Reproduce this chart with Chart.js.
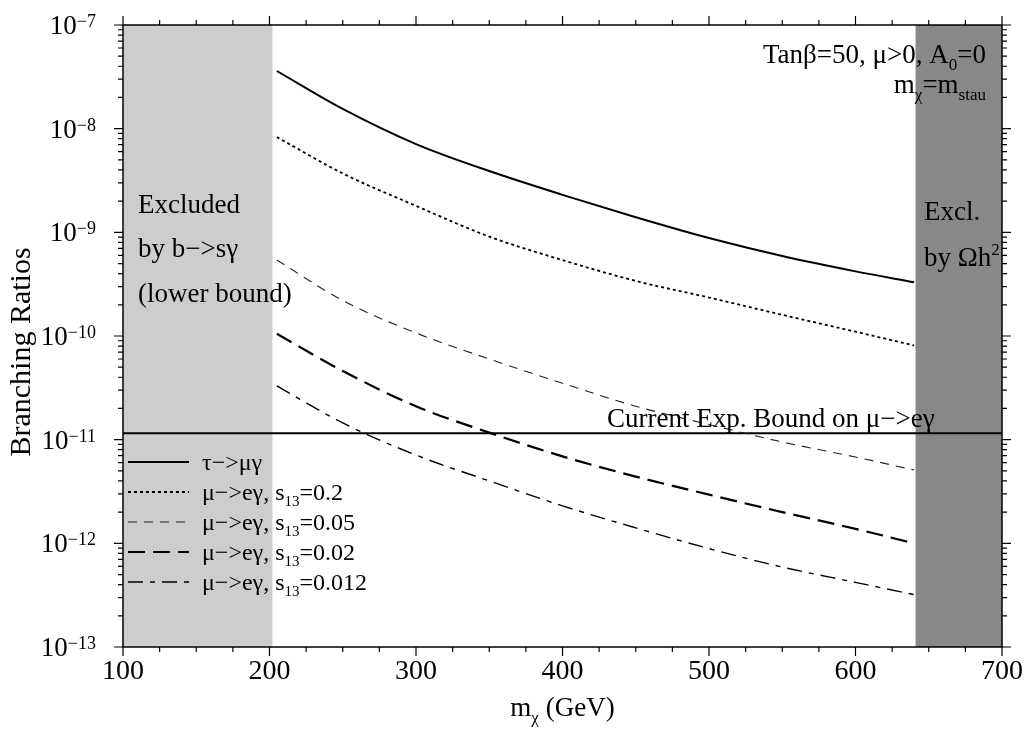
<!DOCTYPE html>
<html><head><meta charset="utf-8">
<script src="https://cdn.jsdelivr.net/npm/chart.js@4.4.0/dist/chart.umd.min.js"></script>
<style>html,body{margin:0;padding:0;background:#fff;}#wrap{width:1027px;height:732px;position:relative;}</style>
</head><body><div id="wrap"><canvas id="c" width="1027" height="732"></canvas></div>
<script>
// ---- data ----
const mass = [205, 250, 300, 350, 400, 450, 500, 550, 600, 640];
const brTauMuGamma = [3.6e-8, 1.55e-8, 7.1e-9, 3.9e-9, 2.3e-9, 1.4e-9, 8.8e-10, 5.9e-10, 4.2e-10, 3.3e-10];
const brMuEs0200 = [8.3e-9, 3.7e-9, 1.8e-9, 9.1e-10, 5.4e-10, 3.4e-10, 2.35e-10, 1.6e-10, 1.1e-10, 8.1e-11];
const brMuEs0050 = [5.4e-10, 2.2e-10, 1.07e-10, 6.0e-11, 3.5e-11, 2.1e-11, 1.4e-11, 9.5e-12, 6.8e-12, 5.1e-12];
const brMuEs0020 = [1.05e-10, 4.6e-11, 2.1e-11, 1.17e-11, 6.9e-12, 4.4e-12, 2.95e-12, 2.0e-12, 1.38e-12, 1.0e-12];
const brMuEs0012 = [3.3e-11, 1.45e-11, 7.1e-12, 4.0e-12, 2.3e-12, 1.41e-12, 8.9e-13, 5.9e-13, 4.2e-13, 3.2e-13];
const seriesLabels = ['τ−>μγ', 'μ−>eγ, s_{13}=0.2', 'μ−>eγ, s_{13}=0.05', 'μ−>eγ, s_{13}=0.02', 'μ−>eγ, s_{13}=0.012'];
const expBoundValue = 1.15e-11;
const expBoundMass = [100, 700];
const bsgExcluded = [100, 202];
const omegaExcluded = [641, 700];
const xRange = [100, 700];
const yRange = [1e-13, 1e-7];
const xTicks = [100, 200, 300, 400, 500, 600, 700];
const xMinorStep = 25;
const yTickExponents = [-13, -12, -11, -10, -9, -8, -7];

const FONT = '"Liberation Serif", "DejaVu Serif", serif';

function pts(ys) { return mass.map((m, i) => ({x: m, y: ys[i]})); }

function richSegments(str) {
  const parts = str.split(/(_\{[^}]*\}|\^\{[^}]*\})/).filter(s => s.length);
  return parts.map(p => {
    if (p.startsWith('_{')) return {t: p.slice(2, -1), k: 'sub'};
    if (p.startsWith('^{')) return {t: p.slice(2, -1), k: 'sup'};
    return {t: p, k: 'n'};
  });
}
function drawRich(ctx, str, x, y, size, align) {
  const segs = richSegments(str);
  const small = Math.round(size * 0.62);
  let total = 0;
  segs.forEach(s => {
    ctx.font = (s.k === 'n' ? size : small) + 'px ' + FONT;
    s.w = ctx.measureText(s.t).width;
    total += s.w;
  });
  let cx = align === 'right' ? x - total : (align === 'center' ? x - total / 2 : x);
  ctx.textAlign = 'left';
  ctx.textBaseline = 'alphabetic';
  segs.forEach(s => {
    ctx.font = (s.k === 'n' ? size : small) + 'px ' + FONT;
    let dy = 0;
    if (s.k === 'sub') dy = size * 0.26;
    if (s.k === 'sup') dy = -size * 0.42;
    ctx.fillText(s.t, cx, y + dy);
    cx += s.w;
  });
  return total;
}

const regionsPlugin = {
  id: 'regions',
  beforeDatasetsDraw(chart) {
    const {ctx, chartArea: a, scales: {x}} = chart;
    ctx.save();
    ctx.fillStyle = '#cdcdcd';
    let x0 = x.getPixelForValue(bsgExcluded[0]), x1 = x.getPixelForValue(bsgExcluded[1]);
    ctx.fillRect(x0, a.top, x1 - x0, a.bottom - a.top);
    ctx.fillStyle = '#888888';
    x0 = x.getPixelForValue(omegaExcluded[0]); x1 = x.getPixelForValue(omegaExcluded[1]);
    ctx.fillRect(x0, a.top, x1 - x0, a.bottom - a.top);
    ctx.restore();
  }
};

const framePlugin = {
  id: 'frame',
  afterDraw(chart) {
    const {ctx, chartArea: a, scales: {x, y}} = chart;
    ctx.save();
    ctx.strokeStyle = '#000';
    ctx.fillStyle = '#000';
    ctx.lineWidth = 1.5;
    ctx.strokeRect(a.left, a.top, a.right - a.left, a.bottom - a.top);
    ctx.lineWidth = 1.2;
    ctx.beginPath();
    for (let v = xRange[0]; v <= xRange[1] + 0.001; v += xMinorStep) {
      const px = x.getPixelForValue(v);
      const major = xTicks.includes(v);
      const L = major ? 9 : 5;
      ctx.moveTo(px, a.bottom); ctx.lineTo(px, a.bottom + L);
      ctx.moveTo(px, a.top); ctx.lineTo(px, a.top - L);
    }
    for (let i = 0; i < yTickExponents.length; i++) {
      const e = yTickExponents[i];
      for (let m = 1; m <= 9; m++) {
        if (i === yTickExponents.length - 1 && m > 1) break;
        const v = m * Math.pow(10, e);
        const py = y.getPixelForValue(v);
        const L = m === 1 ? 9 : 5;
        ctx.moveTo(a.left, py); ctx.lineTo(a.left - L, py);
        ctx.moveTo(a.right, py); ctx.lineTo(a.right + L, py);
      }
    }
    ctx.stroke();

    // x tick labels
    ctx.font = '28px ' + FONT;
    ctx.textAlign = 'center';
    ctx.textBaseline = 'alphabetic';
    xTicks.forEach(v => ctx.fillText(String(v), x.getPixelForValue(v), a.bottom + 32));
    // y tick labels 10^e
    yTickExponents.forEach(e => {
      const py = y.getPixelForValue(Math.pow(10, e));
      ctx.font = '27px ' + FONT;
      const w10 = ctx.measureText('10').width;
      ctx.font = '18px ' + FONT;
      const es = '−' + String(-e);
      const we = ctx.measureText(es).width;
      const right = 96;
      ctx.textAlign = 'left';
      ctx.font = '27px ' + FONT;
      ctx.fillText('10', right - we - w10, py + 9);
      ctx.font = '18px ' + FONT;
      ctx.fillText(es, right - we, py + 2);
    });
    // axis titles
    drawRich(ctx, 'm_{χ} (GeV)', (a.left + a.right) / 2, 716, 27, 'center');
    ctx.save();
    ctx.translate(30, 352);
    ctx.rotate(-Math.PI / 2);
    drawRich(ctx, 'Branching Ratios', 0, 0, 30, 'center');
    ctx.restore();

    // annotations
    drawRich(ctx, 'Excluded', 138, 213, 27, 'left');
    drawRich(ctx, 'by b−>sγ', 138, 257, 27, 'left');
    drawRich(ctx, '(lower bound)', 138, 302, 27, 'left');
    drawRich(ctx, 'Excl.', 924, 220, 27, 'left');
    drawRich(ctx, 'by Ωh^{2}', 924, 266, 27, 'left');
    drawRich(ctx, 'Tanβ=50, μ>0, A_{0}=0', 986, 63, 27, 'right');
    drawRich(ctx, 'm_{χ}=m_{stau}', 986, 93, 27, 'right');
    drawRich(ctx, 'Current Exp. Bound on μ−>eγ', 607, 427, 27, 'left');

    // legend
    const legY = [462, 492, 522, 552, 582];
    chart.data.datasets.slice(0, 5).forEach((ds, i) => {
      ctx.save();
      ctx.strokeStyle = ds.borderColor;
      ctx.lineWidth = ds.borderWidth;
      ctx.setLineDash(ds.borderDash || []);
      ctx.beginPath();
      ctx.moveTo(128, legY[i]); ctx.lineTo(189, legY[i]);
      ctx.stroke();
      ctx.restore();
      ctx.fillStyle = '#000';
      drawRich(ctx, ds.label, 202, legY[i] + 8, 24, 'left');
    });
    ctx.restore();
  }
};

new Chart(document.getElementById('c'), {
  type: 'line',
  data: {
    datasets: [
      {label: seriesLabels[0], data: pts(brTauMuGamma), borderColor: '#000', borderWidth: 2, borderDash: []},
      {label: seriesLabels[1], data: pts(brMuEs0200), borderColor: '#000', borderWidth: 1.8, borderDash: [3, 3]},
      {label: seriesLabels[2], data: pts(brMuEs0050), borderColor: '#222', borderWidth: 1.1, borderDash: [9, 7]},
      {label: seriesLabels[3], data: pts(brMuEs0020), borderColor: '#000', borderWidth: 2.2, borderDash: [17, 8]},
      {label: seriesLabels[4], data: pts(brMuEs0012), borderColor: '#000', borderWidth: 1.4, borderDash: [15, 7, 5, 7]},
      {label: 'Current Exp. Bound', data: expBoundMass.map(m => ({x: m, y: expBoundValue})), borderColor: '#000', borderWidth: 2, borderDash: [], tension: 0}
    ]
  },
  options: {
    responsive: false,
    animation: false,
    devicePixelRatio: 1,
    layout: {padding: {left: 123, right: 25, top: 25, bottom: 85}},
    elements: {point: {radius: 0}, line: {tension: 0.4, cubicInterpolationMode: 'monotone', fill: false}},
    scales: {
      x: {type: 'linear', min: xRange[0], max: xRange[1], display: false},
      y: {type: 'logarithmic', min: yRange[0], max: yRange[1], display: false}
    },
    plugins: {legend: {display: false}, tooltip: {enabled: false}}
  },
  plugins: [regionsPlugin, framePlugin]
});
</script>
</body></html>
